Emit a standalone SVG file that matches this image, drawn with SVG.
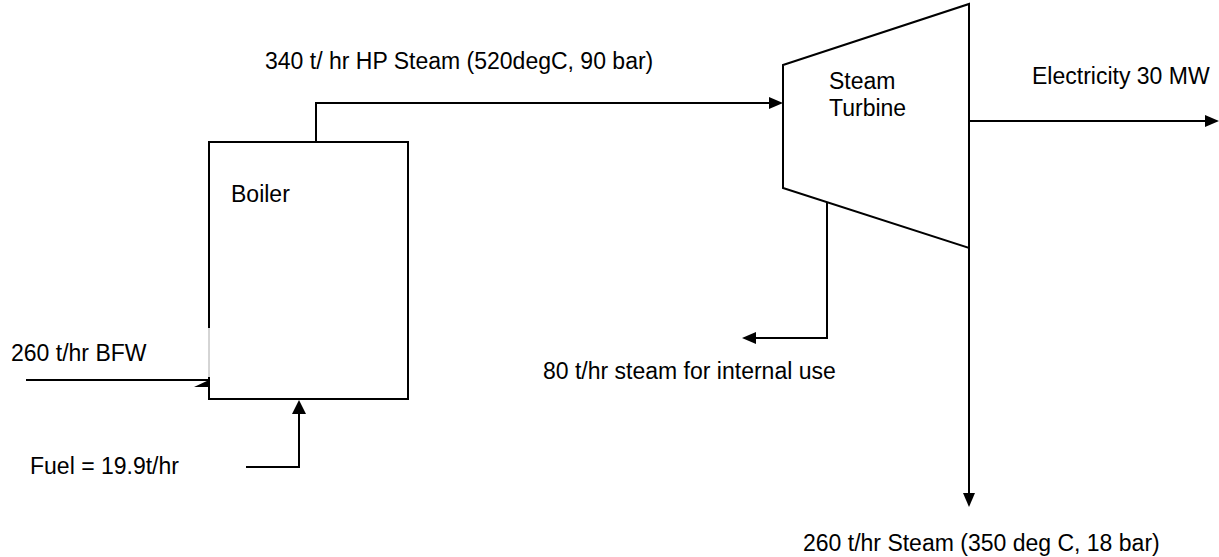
<svg xmlns="http://www.w3.org/2000/svg" width="1219" height="557" viewBox="0 0 1219 557">
<style>
.t{font-family:"Liberation Sans",Arial,sans-serif;font-size:23px;fill:#000}
.ln{fill:none;stroke:#000;stroke-width:2}
.shape{fill:#fff;stroke:#000;stroke-width:2}
</style>
<rect width="1219" height="557" fill="#fff"/>
<g id="boiler">
<path class="ln" d="M209,328 L209,142 L408,142 L408,399 L209,399 L209,377"/>
<line x1="209" y1="328" x2="209" y2="377" stroke="#aaa" stroke-width="1"/>
<text class="t" x="231" y="202">Boiler</text>
</g>
<g id="turbine">
<polygon class="shape" points="783,65 969,4 969,248 783,188"/>
<text class="t" x="829" y="89">Steam</text>
<text class="t" x="829" y="116">Turbine</text>
</g>
<g id="connectors">
<path class="ln" d="M316,142 L316,103 L769,103"/>
<polygon points="769,97 783,103 769,109" fill="#000"/>
<path class="ln" d="M969,121 L1205,121"/>
<polygon points="1205,115 1219,121 1205,127" fill="#000"/>
<path class="ln" d="M827,202 L827,338 L756,338"/>
<polygon points="756,332 742,338 756,344" fill="#000"/>
<path class="ln" d="M969,248 L969,494"/>
<polygon points="963,493 969,507 975,493" fill="#000"/>
<path class="ln" d="M26,380 L209,380"/>
<polygon points="194,387 209,380 209,387" fill="#000"/>
<path class="ln" d="M246,467 L299,467 L299,413"/>
<polygon points="292,414 299,400 306,414" fill="#000"/>
</g>
<g id="labels">
<text class="t" x="265" y="69">340 t/ hr HP Steam (520degC, 90 bar)</text>
<text class="t" x="1032" y="84">Electricity 30 MW</text>
<text class="t" x="11" y="361">260 t/hr BFW</text>
<text class="t" x="30" y="474">Fuel = 19.9t/hr</text>
<text class="t" x="543" y="379">80 t/hr steam for internal use</text>
<text class="t" x="803" y="551">260 t/hr Steam (350 deg C, 18 bar)</text>
</g>
</svg>
